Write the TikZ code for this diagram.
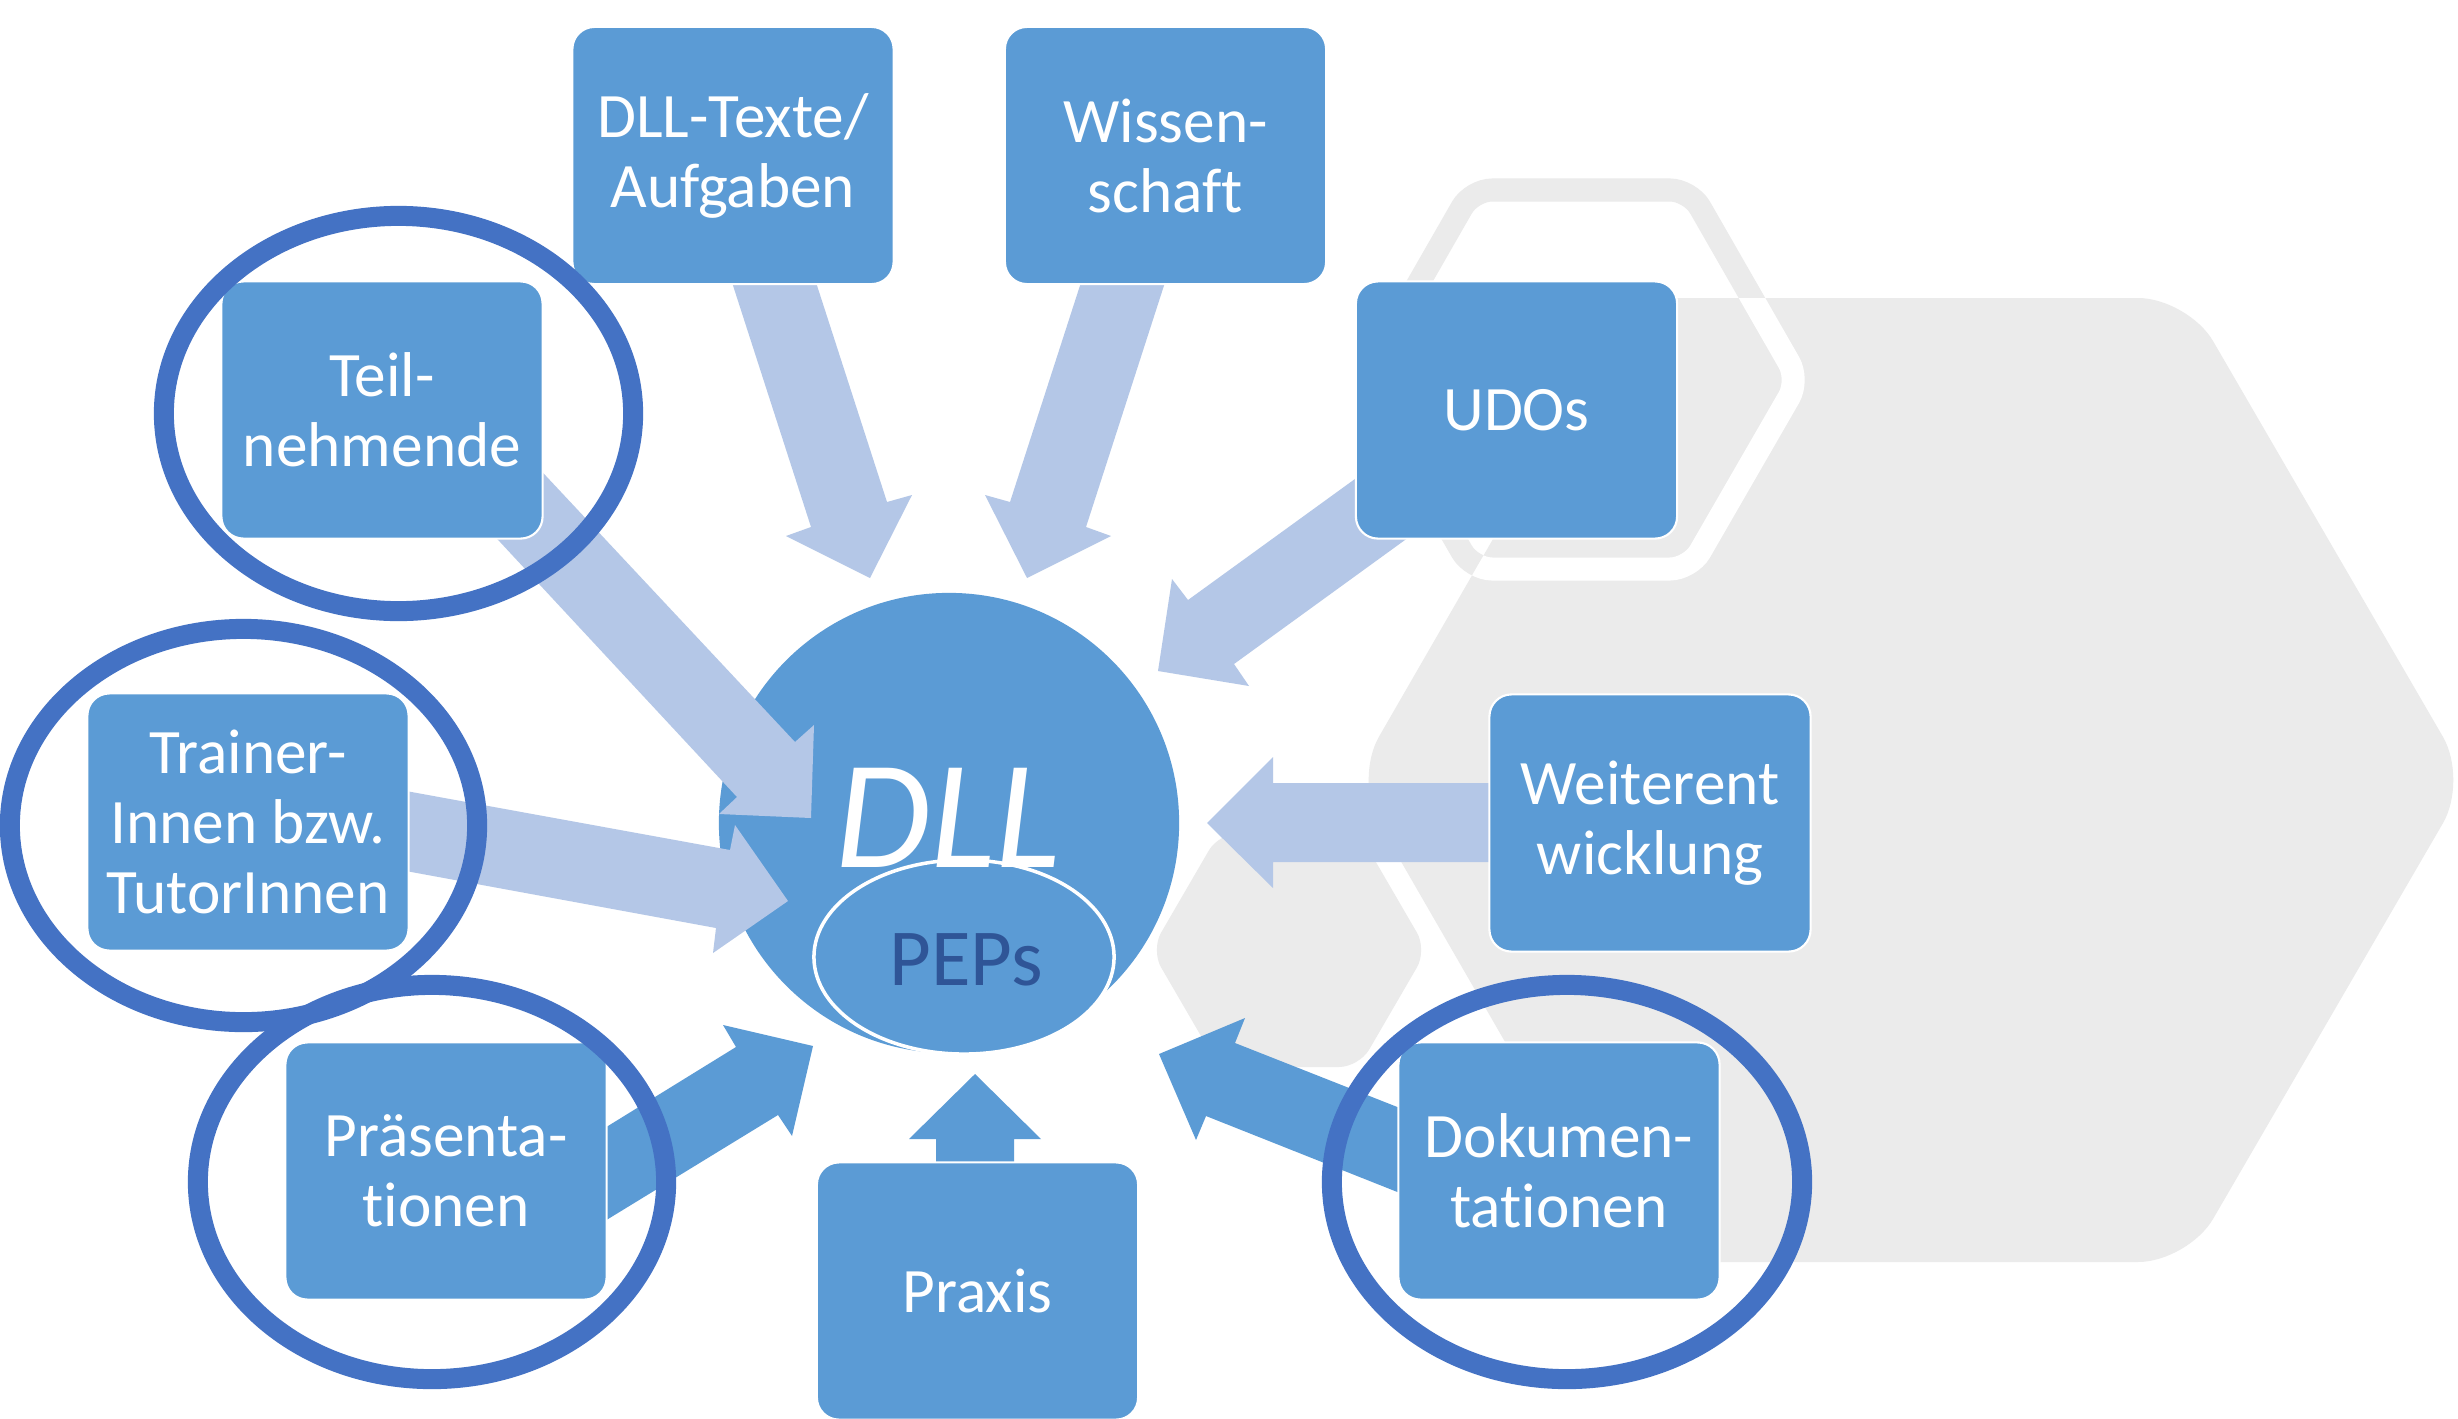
\documentclass[tikz,border=0pt]{standalone}
\usepackage{fontspec}
\setmainfont{Carlito}[Ligatures=NoCommon]
\usetikzlibrary{calc,shapes.geometric}
\definecolor{boxblue}{HTML}{5B9BD5}
\definecolor{lightarr}{HTML}{B4C7E7}
\definecolor{ringblue}{HTML}{4472C4}
\definecolor{hexgray}{HTML}{EBEBEB}
\definecolor{pepsblue}{HTML}{2F5597}
\begin{document}
\begin{tikzpicture}[x=0.01cm,y=-0.01cm,
  box/.style={rectangle, rounded corners=0.22cm, fill=boxblue, draw=white, line width=0.6pt,
    minimum width=3.21cm, minimum height=2.57cm, text=white, align=center,
    font=\fontsize{18pt}{19.9pt}\selectfont, inner sep=0pt},
  hl/.style={draw=ringblue, line width=0.2cm},
  lightarrow/.style={fill=lightarr},
  darkarrow/.style={fill=boxblue}]
\clip (0,0) rectangle (2458,1418);
\fill[white] (0,0) rectangle (2458,1418);
% background hexagons
\fill[hexgray, rounded corners=0.2cm] (1151,950) -- (1219,833) -- (1359,833) -- (1427,950) -- (1359,1067) -- (1219,1067) -- cycle;
\fill[hexgray, rounded corners=0.5cm] (1354,780) -- (1632,298) -- (2188,298) -- (2468,780) -- (2188,1262) -- (1632,1262) -- cycle;
\draw[hexgray, line width=0.23cm, rounded corners=0.2cm] (1363,380) -- (1472,190) -- (1690,190) -- (1799,380) -- (1690,569) -- (1472,569) -- cycle;
\begin{scope}
  \clip[rounded corners=0.5cm] (1354,780) -- (1632,298) -- (2188,298) -- (2468,780) -- (2188,1262) -- (1632,1262) -- cycle;
  \draw[white, line width=0.23cm, rounded corners=0.2cm] (1363,380) -- (1472,190) -- (1690,190) -- (1799,380) -- (1690,569) -- (1472,569) -- cycle;
\end{scope}
% central circle
\node[circle, fill=boxblue, minimum size=4.6cm, inner sep=0pt] (dll) at (949,823) {};
\node[ellipse, fill=boxblue, draw=white, line width=1pt, minimum width=3.0cm, minimum height=1.94cm, inner sep=0pt] (peps) at (964,957) {};
\node[anchor=base, text=white, inner sep=0pt, font=\fontsize{44pt}{44pt}\selectfont\itshape] (dlltext) at (948,867) {DLL};
\node[anchor=base, text=pepsblue, inner sep=0pt, font=\fontsize{23pt}{23pt}\selectfont] (pepstext) at (966,985) {PEPs};
% arrows (light)
\fill[lightarrow] (728,270) -- (811,527) -- (786,536) -- (870,578) -- (912,495) -- (887,502) -- (812,270) -- cycle;
\fill[lightarrow] (1085,270) -- (1010,502) -- (985,495) -- (1027,578) -- (1111,536) -- (1086,527) -- (1169,270) -- cycle;
\fill[lightarrow] (517,445) -- (795,742) -- (814,725) -- (811,818) -- (719,814) -- (737,797) -- (474,514) -- cycle;
\fill[lightarrow] (395,789) -- (730,850) -- (735,825) -- (788,901) -- (713,953) -- (716,928) -- (395,869) -- cycle;
\fill[lightarrow] (1377,463) -- (1188,600) -- (1172,579) -- (1158,671) -- (1249,686) -- (1234,664) -- (1427,524) -- cycle;
\fill[lightarrow] (1500,783) -- (1273,783) -- (1273,757) -- (1207,823) -- (1273,888) -- (1273,862) -- (1500,862) -- cycle;
% arrows (dark)
\fill[darkarrow] (595,1134) -- (736,1047) -- (723,1025) -- (813,1046) -- (792,1136) -- (778,1115) -- (595,1227) -- cycle;
\fill[darkarrow] (936,1175) -- (936,1139) -- (909,1139) -- (975,1074) -- (1041,1139) -- (1014,1139) -- (1014,1175) -- cycle;
\fill[darkarrow] (1410,1112) -- (1235,1043) -- (1245,1018) -- (1159,1054) -- (1196,1140) -- (1206,1116) -- (1410,1197) -- cycle;
% boxes
\node[box] (texte) at (733,155.5) {DLL-Texte/\\Aufgaben};
\node[box] (wiss) at (1165.5,155.5) {Wissen-\\schaft};
\node[box] (teil) at (382,410) {Teil-\\nehmende};
\node[box] (udos) at (1516.5,410) {UDOs};
\node[box] (trainer) at (248,822) {Trainer-\\Innen bzw.\\TutorInnen};
\node[box] (weiter) at (1650,823) {Weiterent\\wicklung};
\node[box] (praes) at (446,1171) {Präsenta-\\tionen};
\node[box] (doku) at (1559,1171) {Dokumen-\\tationen};
\node[box] (praxis) at (977.5,1291) {Praxis};
% highlight ellipses
\draw[hl] (398.5,413.5) ellipse [x radius=2.345cm, y radius=1.975cm];
\draw[hl] (243.5,825.5) ellipse [x radius=2.335cm, y radius=1.965cm];
\draw[hl] (432,1182) ellipse [x radius=2.34cm, y radius=1.97cm];
\draw[hl] (1567,1182) ellipse [x radius=2.35cm, y radius=1.97cm];
\end{tikzpicture}
\end{document}
